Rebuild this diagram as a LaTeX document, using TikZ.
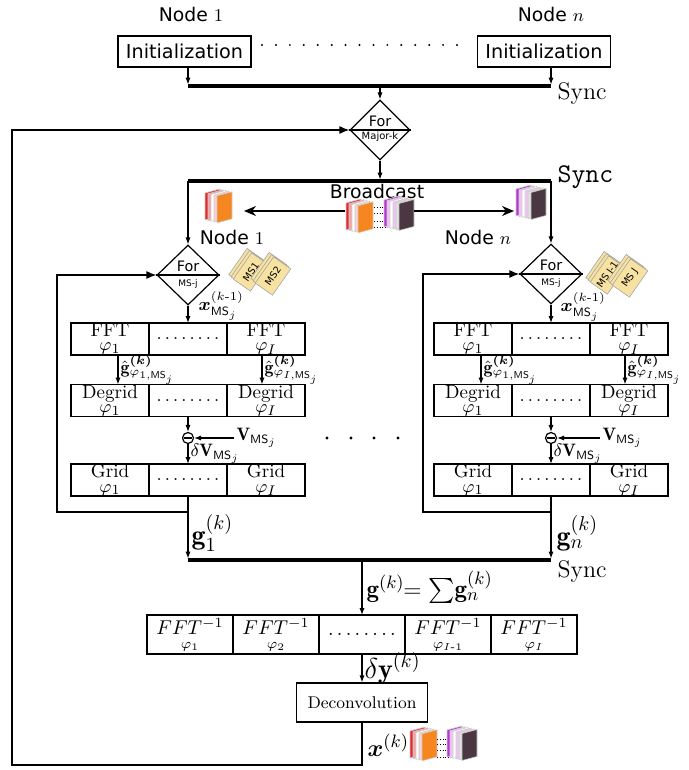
\documentclass[tikz,border=0pt]{standalone}
\usepackage{amsmath,amssymb}
\usepackage{fontspec}
\newfontfamily\djsans{DejaVu Sans}
\usetikzlibrary{positioning,shapes.geometric,arrows.meta,shadows}

\definecolor{sliceorange}{HTML}{F6861F}
\definecolor{slicered}{HTML}{E42A2A}
\definecolor{slicepink}{HTML}{F2A6A6}
\definecolor{slicepurple}{HTML}{B737D6}
\definecolor{slicelilac}{HTML}{EFC6F2}
\definecolor{slicedark}{HTML}{4A3741}
\definecolor{folderyellow}{HTML}{F7E2A1}

\tikzset{
  cell/.style={draw, outer sep=0pt, inner sep=0pt, minimum width=39pt, minimum height=16pt, align=center, font=\fontsize{9.5}{7.2}\selectfont},
  invcell/.style={cell, minimum width=43pt, minimum height=19.5pt, font=\fontsize{10}{7}\selectfont},
  initbox/.style={draw, inner sep=0pt, minimum width=66.5pt, minimum height=15.5pt, font=\djsans\fontsize{9.6}{10}\selectfont},
  fordia/.style={diamond, draw, inner sep=0pt, minimum width=30pt, minimum height=30pt},
  sans/.style={font=\djsans\fontsize{9.4}{10}\selectfont},
  lbl/.style={inner sep=1pt, font=\fontsize{9}{10}\selectfont},
  biglbl/.style={inner sep=1pt, font=\fontsize{14}{16}\selectfont},
  flow/.style={-{Latex[length=3.5pt,width=2.6pt]}},
  backarrow/.style={-{Latex[length=5pt,width=4pt]}},
  bcast/.style={-{Stealth[length=6pt,width=5pt]}},
  syncbar/.style={line width=1.6pt},
  folder/.style={draw=gray!70, fill=folderyellow, line width=0.3pt, rotate=55, inner sep=0.6pt,
    minimum width=16pt, minimum height=10.5pt, font=\djsans\fontsize{4.8}{5}\selectfont,
    double copy shadow={shadow xshift=-1.1pt, shadow yshift=1.1pt, draw=gray!70, fill=folderyellow}}
}

\newcommand{\slicestack}[3]{%
  \foreach \col [count=\i from 0] in {#3}
    \filldraw[fill=\col, draw=gray!40, line width=0.3pt]
      ({#1+3*\i},{#2+0.7*\i}) -- ++(15,-4) -- ++(0,27) -- ++(-15,4) -- cycle;
}
\newcommand{\celldots}{$.\,.\,.\,.\,.\,.\,.\,.$}

\begin{document}
\begin{tikzpicture}[x=0.5pt, y=-0.5pt, line width=0.6pt]
\useasboundingbox (0,0) rectangle (689,770);

\node[sans] (nodeA) at (191,14) {Node $1$};
\node[sans] (nodeB) at (551,14) {Node $n$};
\node[initbox] (initA) at (184.5,51.5) {Initialization};
\node[initbox] (initB) at (544,51.5) {Initialization};
\foreach \i in {0,...,14} \fill ({262+13.93*\i},45) circle (0.55pt);

\coordinate (syncL1) at (188,86);
\coordinate (syncR1) at (551,86);
\draw[syncbar] (syncL1) -- (syncR1);
\node[anchor=west, inner sep=0pt, font=\fontsize{12}{14}\selectfont] (syncA) at (557,94) {Sync};
\draw[flow, shorten >=0.7pt] (initA.south -| syncL1) -- (syncL1);
\draw[flow, shorten >=0.7pt] (initB.south -| syncR1) -- (syncR1);

\node[fordia] (major) at (380,130) {};
\draw (major.west) -- (major.east);
\node[font=\djsans\fontsize{7.2}{8}\selectfont] (majorFor) at (380,121) {For};
\node[font=\djsans\fontsize{5}{5}\selectfont] (majorK) at (380,137) {Major-k};
\draw[flow] (major.north |- syncL1) -- (major.north);

\coordinate (syncL2) at (188,181);
\coordinate (syncR2) at (551,181);
\draw[syncbar] (syncL2) -- (syncR2);
\node[anchor=west, inner sep=0pt, font=\fontsize{13.5}{15}\selectfont\ttfamily] (syncB) at (557,177) {Sync};
\draw[flow, shorten >=0.7pt] (major.south) -- (major.south |- syncL2);

\node[sans] (bcastTxt) at (377,191) {Broadcast};
\slicestack{205}{193}{slicered,slicepink,white,slicepink!50,sliceorange}
\slicestack{346}{203}{slicered,slicepink,white,slicepink!50,sliceorange}
\foreach \y in {207,213,221,227} \draw[densely dotted, line width=0.4pt] (374,\y) -- (387,\y);
\slicestack{384}{200}{slicepurple,slicelilac,white,slicelilac,gray!25,slicedark}
\slicestack{516}{189}{slicepurple,slicelilac,white,slicelilac,gray!25,slicedark}
\coordinate (iconC) at (345,211);
\coordinate (iconL) at (244,211);
\coordinate (iconC2) at (414,211);
\coordinate (iconR) at (514,211);
\draw[bcast] (iconC) -- (iconL);
\draw[bcast] (iconC2) -- (iconR);
\node[sans] (bcastA) at (232,237) {Node $1$};
\node[sans] (bcastB) at (478,237) {Node $n$};

\node[fordia, minimum width=31pt] (forA) at (188,275) {};
\draw (forA.west) -- (forA.east);
\node[font=\djsans\fontsize{7.2}{8}\selectfont] (forAtxt) at (188,266) {For};
\node[font=\djsans\fontsize{4.5}{5}\selectfont] (forAms) at (188,284) {MS-j};
\draw[flow] (syncL2) -- (forA.north);
\node[fordia, minimum width=31pt] (forB) at (551,274) {};
\draw (forB.west) -- (forB.east);
\node[font=\djsans\fontsize{7.2}{8}\selectfont] (forBtxt) at (551,265) {For};
\node[font=\djsans\fontsize{4.5}{5}\selectfont] (forBms) at (551,283) {MS-j};
\draw[flow] (syncR2) -- (forB.north);

\node[folder] (msA1) at (251,272) {MS1};
\node[folder] (msA2) at (273,276) {MS2};
\node[folder] (msB1) at (608,275) {MS J-1};
\node[folder] (msB2) at (630,278) {MS J};

\node[lbl, anchor=west] (xA) at (196,306) {$\boldsymbol{x}^{(k\text{-}1)}_{\mathsf{MS}_j}$};
\node[lbl, anchor=west] (xB) at (558,307) {$\boldsymbol{x}^{(k\text{-}1)}_{\mathsf{MS}_j}$};

\node[cell] (fftA1) at (110,339) {FFT\\$\varphi_1$};
\node[cell, right=0pt of fftA1] (fftA2) {\celldots};
\node[cell, right=0pt of fftA2] (fftA3) {FFT\\$\varphi_I$};
\node[cell] (fftB1) at (473,339) {FFT\\$\varphi_1$};
\node[cell, right=0pt of fftB1] (fftB2) {\celldots};
\node[cell, right=0pt of fftB2] (fftB3) {FFT\\$\varphi_I$};
\draw[flow] (forA.south) -- (fftA2.north);
\draw[flow] (forB.south) -- (fftB2.north);

\node[cell] (degA1) at (110,400.5) {Degrid\\$\varphi_1$};
\node[cell, right=0pt of degA1] (degA2) {\celldots};
\node[cell, right=0pt of degA2] (degA3) {Degrid\\$\varphi_I$};
\node[cell] (degB1) at (473,400.5) {Degrid\\$\varphi_1$};
\node[cell, right=0pt of degB1] (degB2) {\celldots};
\node[cell, right=0pt of degB2] (degB3) {Degrid\\$\varphi_I$};

\draw[flow] ([xshift=4pt]fftA1.south) -- ([xshift=4pt]degA1.north) node[lbl, midway, anchor=west] (ghA1) {$\hat{\mathbf{g}}^{\boldsymbol{(k)}}_{\varphi_{1,\mathsf{MS}_j}}$};
\draw[flow] ([xshift=-2pt]fftA3.south) -- ([xshift=-2pt]degA3.north) node[lbl, midway, anchor=west] (ghA3) {$\hat{\mathbf{g}}^{\boldsymbol{(k)}}_{\varphi_{I,\mathsf{MS}_j}}$};
\draw[flow] ([xshift=4pt]fftB1.south) -- ([xshift=4pt]degB1.north) node[lbl, midway, anchor=west] (ghB1) {$\hat{\mathbf{g}}^{\boldsymbol{(k)}}_{\varphi_{1,\mathsf{MS}_j}}$};
\draw[flow] ([xshift=-2pt]fftB3.south) -- ([xshift=-2pt]degB3.north) node[lbl, midway, anchor=west] (ghB3) {$\hat{\mathbf{g}}^{\boldsymbol{(k)}}_{\varphi_{I,\mathsf{MS}_j}}$};

\node[circle, draw, inner sep=0pt, minimum size=5.5pt] (subA) at (188,438) {};
\draw[shorten <=0.9pt, shorten >=0.9pt] (subA.west) -- (subA.east);
\node[circle, draw, inner sep=0pt, minimum size=5.5pt] (subB) at (551,438) {};
\draw[shorten <=0.9pt, shorten >=0.9pt] (subB.west) -- (subB.east);
\draw[flow] (degA2.south) -- (subA.north);
\draw[flow] (degB2.south) -- (subB.north);
\node[lbl, anchor=west] (vA) at (234,438) {$\mathbf{V}_{\mathsf{MS}_j}$};
\node[lbl, anchor=west] (vB) at (600,438) {$\mathbf{V}_{\mathsf{MS}_j}$};
\draw[flow] (vA.west) -- (subA.east);
\draw[flow] (vB.west) -- (subB.east);

\node[cell] (gridA1) at (110,480) {Grid\\$\varphi_1$};
\node[cell, right=0pt of gridA1] (gridA2) {\celldots};
\node[cell, right=0pt of gridA2] (gridA3) {Grid\\$\varphi_I$};
\node[cell] (gridB1) at (473,480) {Grid\\$\varphi_1$};
\node[cell, right=0pt of gridB1] (gridB2) {\celldots};
\node[cell, right=0pt of gridB2] (gridB3) {Grid\\$\varphi_I$};
\draw[flow] (subA.south) -- (gridA2.north) node[lbl, midway, anchor=west] (dvA) {$\delta\mathbf{V}_{\mathsf{MS}_j}$};
\draw[flow] (subB.south) -- (gridB2.north) node[lbl, midway, anchor=west] (dvB) {$\delta\mathbf{V}_{\mathsf{MS}_j}$};

\foreach \x in {327,351,374,398} \fill (\x,438) circle (0.8pt);

\coordinate (syncL3) at (188,560);
\coordinate (syncR3) at (551,560);
\draw[syncbar] (syncL3) -- (syncR3);
\draw[flow, shorten >=0.7pt] (gridA2.south) -- (syncL3);
\draw[flow, shorten >=0.7pt] (gridB2.south) -- (syncR3);
\coordinate (loopA) at (57,512);
\coordinate (loopB) at (423,512);
\draw[backarrow] (gridA2.south |- loopA) -- (loopA) |- (forA.west);
\draw[backarrow] (gridB2.south |- loopB) -- (loopB) |- (forB.west);
\node[biglbl, anchor=west] (gA) at (189,533) {$\mathbf{g}^{(k)}_1$};
\node[biglbl, anchor=west] (gB) at (554,533) {$\mathbf{g}^{(k)}_n$};
\node[anchor=west, inner sep=0pt, font=\fontsize{12}{14}\selectfont] (syncC) at (557,571) {Sync};

\node[invcell] (invA) at (190,634.5) {$FFT^{-1}$\\{\fontsize{7.5}{7}\selectfont$\varphi_1$}};
\node[invcell, right=0pt of invA] (invB) {$FFT^{-1}$\\{\fontsize{7.5}{7}\selectfont$\varphi_2$}};
\node[invcell, right=0pt of invB] (invC) {\celldots};
\node[invcell, right=0pt of invC] (invD) {$FFT^{-1}$\\{\fontsize{7.5}{7}\selectfont$\varphi_{I\text{-}1}$}};
\node[invcell, right=0pt of invD] (invE) {$FFT^{-1}$\\{\fontsize{7.5}{7}\selectfont$\varphi_I$}};
\draw[flow] (invC.north |- syncL3) -- (invC.north) node[midway, anchor=west, inner sep=2pt, font=\fontsize{12.5}{14}\selectfont] (gsum) {$\mathbf{g}^{(k)}\!\!=\sum\!\mathbf{g}^{(k)}_n$};

\node[draw, inner sep=0pt, minimum width=65.5pt, minimum height=19.5pt, font=\fontsize{8.5}{9}\selectfont] (deconv) at (362,702.5) {Deconvolution};
\draw[flow] (invC.south) -- (deconv.north) node[biglbl, midway, anchor=west] (dy) {$\delta\mathbf{y}^{(k)}$};

\coordinate (outerBL) at (12,765);
\draw[backarrow] (deconv.south) |- (outerBL) |- (major.west);
\node[anchor=west, inner sep=1pt, font=\fontsize{13}{15}\selectfont] (xk) at (365,745) {$\boldsymbol{x}^{(k)}$};
\slicestack{410}{731}{slicered,slicepink,white,slicepink!50,sliceorange}
\foreach \y in {739,744,750,757} \draw[densely dotted, line width=0.4pt] (437,\y) -- (450,\y);
\slicestack{447}{730}{slicepurple,slicelilac,white,slicelilac,gray!25,slicedark}

\end{tikzpicture}
\end{document}
